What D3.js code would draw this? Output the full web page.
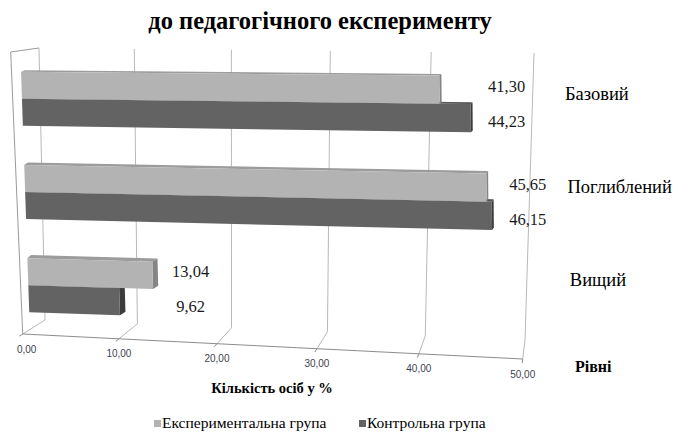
<!DOCTYPE html>
<html><head><meta charset="utf-8">
<script src="https://cdn.jsdelivr.net/npm/d3@7"></script>
<style>body{margin:0;background:#fff}svg{display:block}</style>
</head><body><svg id="c" width="674" height="432"></svg>
<script>
// ---- data ----
const categories = ["Базовий", "Поглиблений", "Вищий"];
const seriesNames = ["Експериментальна група", "Контрольна група"];
const experimental = [41.30, 45.65, 13.04];
const control = [44.23, 46.15, 9.62];
const xTicks = [0, 10, 20, 30, 40, 50];
const titleText = "до педагогічного експерименту";
const xTitleText = "Кількість осіб у %";
const yTitleText = "Рівні";

// ---- styles ----
const colors = { front: ["#b3b3b3", "#636363"], top: ["#9c9c9c", "#555555"], side: ["#858585", "#3c3c3c"] };
const serif = "'Liberation Serif','Times New Roman',serif";
const sans = "'Liberation Sans',Arial,sans-serif";

const svg = d3.select("#c");
const fmt = d3.formatLocale({ decimal: ",", thousands: " ", grouping: [3], currency: ["", ""] }).format(".2f");

// ---- perspective helpers ----
const warpC = 0.049;
const warp = t => t / (1 + warpC * (1 - t));
const vToT = d3.scaleLinear().domain([0, 50]).range([0, 1]);
const backTop = { x: 39, len: 495, y: 48, rise: 5 };
const backBot = { x: 45, len: 480, y: 320, rise: 20 };
const frontEdge = { x: 22.7, len: 500, y: 334, rise: 25 };
function onEdge(e, v) { const w = warp(vToT(v)); return [e.x + e.len * w, e.y + e.rise * w]; }

// bar plane
const x0S = d3.scaleLinear().domain([71, 314]).range([21, 29.3]);
const LS = d3.scaleLinear().domain([71, 314]).range([512, 505]);
const sS = d3.scaleLinear().domain([71, 314]).range([0.009, 0.033]);
function barPt(v, y0) {
  const xl = x0S(y0);
  const x = xl + LS(y0) * warp(vToT(v));
  return [x, y0 + sS(y0) * (x - xl)];
}
const dX = d3.scaleLinear().domain([28, 470]).range([6.5, 1.8]).clamp(true);
const dY = d3.scaleLinear().domain([71, 259]).range([1.5, 3.3]);

// category scales
const yBand = d3.scaleBand().domain(categories).range([52, 332]).paddingInner(0.42).paddingOuter(0.212);
const ySeries = d3.scaleBand().domain(seriesNames).range([0, yBand.bandwidth()]);

// ---- walls & gridlines ----
const g = svg.append("g");
const leftTopFront = [10.7, 52];
g.append("path").attr("d", d3.line()([onEdge(frontEdge, 0), leftTopFront, onEdge(backTop, 0)]))
  .attr("fill", "none").attr("stroke", "#9a9a9a").attr("stroke-width", 1);

xTicks.forEach(v => {
  const pts = [onEdge(backTop, v), onEdge(backBot, v), onEdge(frontEdge, v)];
  g.append("path").attr("d", d3.line()(pts)).attr("fill", "none")
    .attr("stroke", "#b8b8b8").attr("stroke-width", 1);
  const b = pts[1], f = pts[2];
  const dx = f[0] - b[0], dy = f[1] - b[1], len = Math.hypot(dx, dy) || 1;
  g.append("line").attr("x1", f[0]).attr("y1", f[1])
    .attr("x2", f[0] + dx / len * 4).attr("y2", f[1] + dy / len * 4)
    .attr("stroke", "#8c8c8c");
});
g.append("path").attr("d", d3.line()(d3.range(0, 50.5, 2).map(v => onEdge(frontEdge, v))))
  .attr("fill", "none").attr("stroke", "#8c8c8c").attr("stroke-width", 1);

// tick labels
xTicks.forEach(v => {
  const p = onEdge(frontEdge, v);
  g.append("text").attr("x", p[0] + (v === 0 ? 4 : 0)).attr("y", p[1] + 15)
    .attr("text-anchor", "middle").attr("dominant-baseline", "central")
    .attr("font-family", sans).attr("font-size", 10).attr("fill", "#3d3f4f")
    .text(fmt(v));
});

// ---- bars ----
const seriesVals = [experimental, control];
const bars = svg.append("g");
categories.forEach((cat, ci) => {
  [1, 0].forEach(si => {
    const v = seriesVals[si][ci];
    const yt = yBand(cat) + ySeries(seriesNames[si]);
    const yb = yt + ySeries.bandwidth();
    const TL = barPt(0, yt), BL = barPt(0, yb);
    const TRv = barPt(v, yt), BRv = barPt(v, yb);
    const ddx = dX(TRv[0]), ddy = dY(yt);
    const TR = [TRv[0] - ddx / 2, TRv[1]], BR = [BRv[0] - ddx / 2, BRv[1]];
    const off = p => [p[0] + ddx, p[1] - ddy];
    const offL = p => [p[0] + dX(p[0]) * 0.55, p[1] - ddy];
    bars.append("path").attr("d", d3.line()([TL, TR, off(TR), offL(TL)]) + "Z")
      .attr("fill", colors.top[si]);
    bars.append("path").attr("d", d3.line()([TR, off(TR), off(BR), BR]) + "Z")
      .attr("fill", colors.side[si]);
    bars.append("path").attr("d", d3.line()([TL, TR, BR, BL]) + "Z")
      .attr("fill", colors.front[si]);
  });
});

// value labels & category labels
const labels = svg.append("g");
categories.forEach((cat, ci) => {
  const maxV = Math.max(experimental[ci], control[ci]);
  const c = barPt(maxV, yBand(cat) + yBand.bandwidth() / 2);
  [0, 1].forEach(si => {
    labels.append("text").attr("x", c[0] + 35).attr("y", c[1] + (si === 0 ? -17.5 : 17.5))
      .attr("text-anchor", "middle").attr("dominant-baseline", "central")
      .attr("font-family", serif).attr("font-size", 16.5).attr("fill", "#1a1a1a")
      .text(fmt(seriesVals[si][ci]));
  });
  const cy = yBand(cat) + yBand.bandwidth() / 2 - 5;
  labels.append("text").attr("x", 565 + (cy - 95) * 0.026).attr("y", cy)
    .attr("dominant-baseline", "central")
    .attr("font-family", serif).attr("font-size", 18.5).attr("fill", "#000")
    .text(cat);
});

// ---- titles ----
svg.append("text").attr("x", 320).attr("y", 29).attr("text-anchor", "middle")
  .attr("font-family", serif).attr("font-weight", "bold").attr("font-size", 24.5).attr("fill", "#000")
  .text(titleText);
svg.append("text").attr("x", 272).attr("y", 393).attr("text-anchor", "middle")
  .attr("font-family", serif).attr("font-weight", "bold").attr("font-size", 14.5).attr("fill", "#000")
  .text(xTitleText);
svg.append("text").attr("x", 575).attr("y", 372)
  .attr("font-family", serif).attr("font-weight", "bold").attr("font-size", 16).attr("fill", "#000")
  .text(yTitleText);

// ---- legend ----
const legendX = [154, 359];
seriesNames.forEach((name, i) => {
  svg.append("rect").attr("x", legendX[i]).attr("y", 420).attr("width", 7).attr("height", 7)
    .attr("fill", colors.front[i]);
  svg.append("text").attr("x", legendX[i] + 8).attr("y", 427.5)
    .attr("font-family", serif).attr("font-size", 15.5).attr("fill", "#000")
    .text(name);
});
</script>
</body></html>
